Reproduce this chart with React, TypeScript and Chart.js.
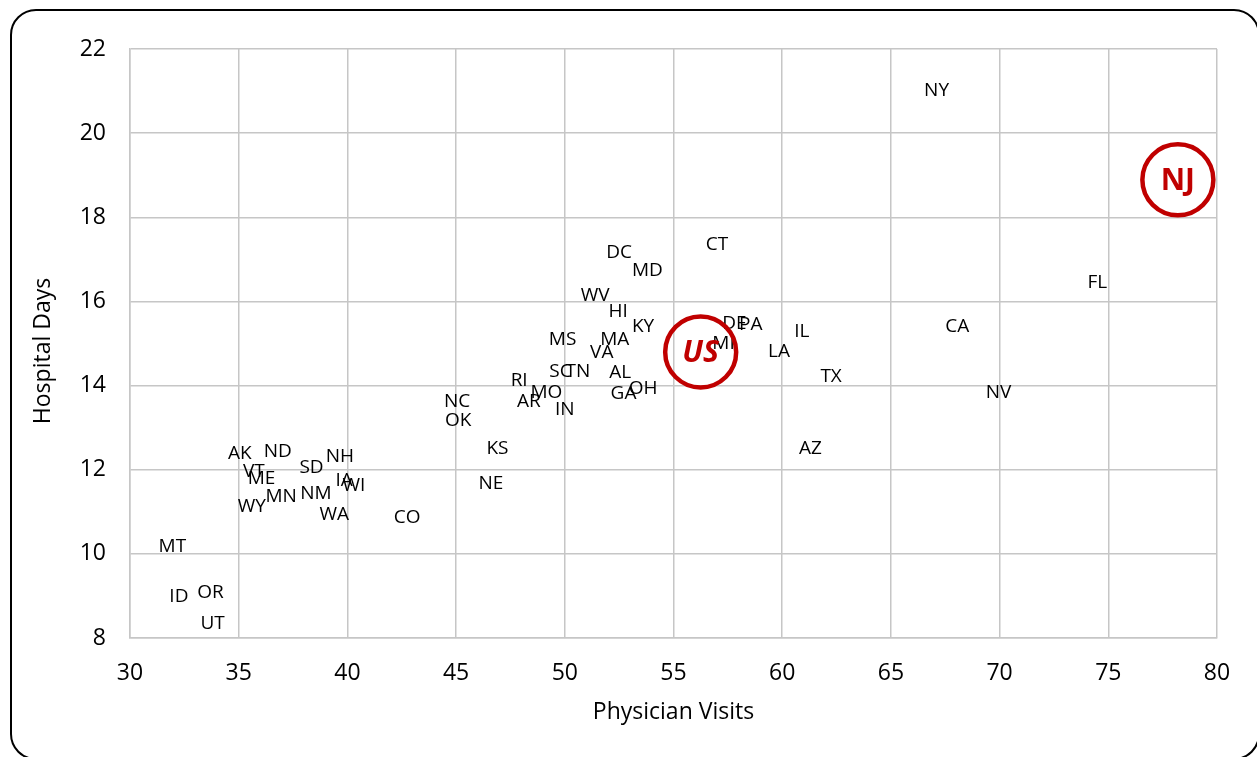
import React, { useEffect, useRef } from "react";
import { Chart, registerables } from "chart.js";

Chart.register(...registerables);

const states = ["NY","FL","CT","DC","MD","WV","HI","KY","MS","MA","VA","SC","TN","AL","RI","MO","AR","IN","GA","OH","NC","OK","KS","NE","DE","PA","MI","IL","LA","TX","CA","NV","AZ","CO","AK","ND","VT","ME","SD","NH","IA","WI","NM","MN","WY","WA","MT","ID","OR","UT"];
const physicianVisits = [67.1,74.5,57.0,52.5,53.8,51.4,52.45,53.6,49.9,52.3,51.7,49.8,50.6,52.55,47.9,49.15,48.35,50.0,52.7,53.6,45.05,45.1,46.9,46.6,57.8,58.55,57.3,60.9,59.85,62.25,68.05,69.95,61.3,42.75,35.05,36.8,35.7,36.05,38.35,39.65,39.85,40.3,38.55,36.95,35.6,39.4,31.95,32.25,33.7,33.8];
const hospitalDays = [21.07,16.49,17.39,17.2,16.79,16.18,15.8,15.46,15.13,15.13,14.82,14.39,14.37,14.35,14.16,13.89,13.66,13.47,13.85,13.97,13.66,13.21,12.56,11.71,15.51,15.49,15.04,15.34,14.85,14.25,15.44,13.89,12.56,10.92,12.42,12.47,12.0,11.83,12.09,12.37,11.8,11.68,11.49,11.42,11.16,10.99,10.21,9.02,9.12,8.38];

const highlightNames = ["US","NJ"];
const highlightVisits = [56.25,78.2];
const highlightDays = [14.8,18.89];
const highlightItalic = [true,false];

const FONT = "'Open Sans', sans-serif";

const labelPlugin = {
  id: "labels",
  beforeDraw(chart: any) {
    const ctx = chart.ctx;
    ctx.save();
    ctx.fillStyle = "#ffffff";
    ctx.fillRect(0, 0, chart.width, chart.height);
    ctx.restore();
  },
  afterDatasetsDraw(chart: any) {
    const ctx = chart.ctx;
    ctx.save();
    ctx.textAlign = "center";
    ctx.textBaseline = "middle";
    const meta0 = chart.getDatasetMeta(0);
    ctx.font = `19px ${FONT}`;
    ctx.fillStyle = "#000000";
    meta0.data.forEach((el: any, i: number) => {
      ctx.fillText(states[i], el.x, el.y + 2);
    });
    const meta1 = chart.getDatasetMeta(1);
    meta1.data.forEach((el: any, i: number) => {
      ctx.beginPath();
      ctx.lineWidth = 4.5;
      ctx.strokeStyle = "#C00000";
      ctx.arc(el.x, el.y, 35.5, 0, Math.PI * 2);
      ctx.stroke();
      ctx.fillStyle = "#C00000";
      ctx.font = `${highlightItalic[i] ? "italic " : ""}bold 30px ${FONT}`;
      ctx.fillText(highlightNames[i], el.x, el.y + 2);
    });
    ctx.restore();
  },
  afterDraw(chart: any) {
    const ctx = chart.ctx;
    ctx.save();
    ctx.beginPath();
    ctx.lineWidth = 2;
    ctx.strokeStyle = "#000000";
    ctx.roundRect(11, 10, 1248, 749, 25);
    ctx.stroke();
    // y-axis title drawn manually to match position
    ctx.translate(43, 351);
    ctx.rotate(-Math.PI / 2);
    ctx.textAlign = "center";
    ctx.textBaseline = "middle";
    ctx.fillStyle = "#000";
    ctx.font = `23px ${FONT}`;
    ctx.fillText(chart.options.scales.y.title.text, 0, 0);
    ctx.restore();
  },
};

export default function App() {
  const ref = useRef<HTMLCanvasElement>(null);
  useEffect(() => {
    document.body.style.margin = "0";
    const canvas = ref.current;
    if (!canvas) return;
    const chart = new Chart(canvas, {
      type: "scatter",
      data: {
        datasets: [
          {
            label: "States",
            data: physicianVisits.map((v, i) => ({ x: v, y: hospitalDays[i] })),
            pointRadius: 0,
            pointHoverRadius: 0,
          },
          {
            label: "Highlights",
            data: highlightVisits.map((v, i) => ({ x: v, y: highlightDays[i] })),
            pointRadius: 0,
            pointHoverRadius: 0,
          },
        ],
      },
      options: {
        animation: false,
        responsive: false,
        devicePixelRatio: 1,
        layout: { padding: { top: 49, right: 40, bottom: 0, left: 0 } },
        plugins: { legend: { display: false }, tooltip: { enabled: false } },
        scales: {
          x: {
            type: "linear",
            min: 30,
            max: 80,
            ticks: { stepSize: 5, padding: 22, color: "#000", font: { family: FONT, size: 23 } },
            grid: { color: "#C6C6C6", lineWidth: 1.5, drawTicks: false },
            border: { color: "#C6C6C6", width: 1.5 },
            title: {
              display: true,
              text: "Physician Visits",
              color: "#000",
              font: { family: FONT, size: 23 },
              padding: { top: 0, bottom: 31 },
            },
            afterFit: (scale: any) => { scale.height = 119; },
          },
          y: {
            type: "linear",
            min: 8,
            max: 22,
            ticks: { stepSize: 2, padding: 24, color: "#000", font: { family: FONT, size: 23 } },
            grid: { color: "#C6C6C6", lineWidth: 1.5, drawTicks: false },
            border: { color: "#C6C6C6", width: 1.5 },
            title: {
              display: false,
              text: "Hospital Days",
            },
            afterFit: (scale: any) => { scale.width = 130; },
          },
        },
      },
      plugins: [labelPlugin],
    } as any);
    return () => chart.destroy();
  }, []);
  return (
    <div style={{ position: "absolute", left: 0, top: 0, width: 1257, height: 757 }}>
      <canvas ref={ref} width={1257} height={757} />
    </div>
  );
}
